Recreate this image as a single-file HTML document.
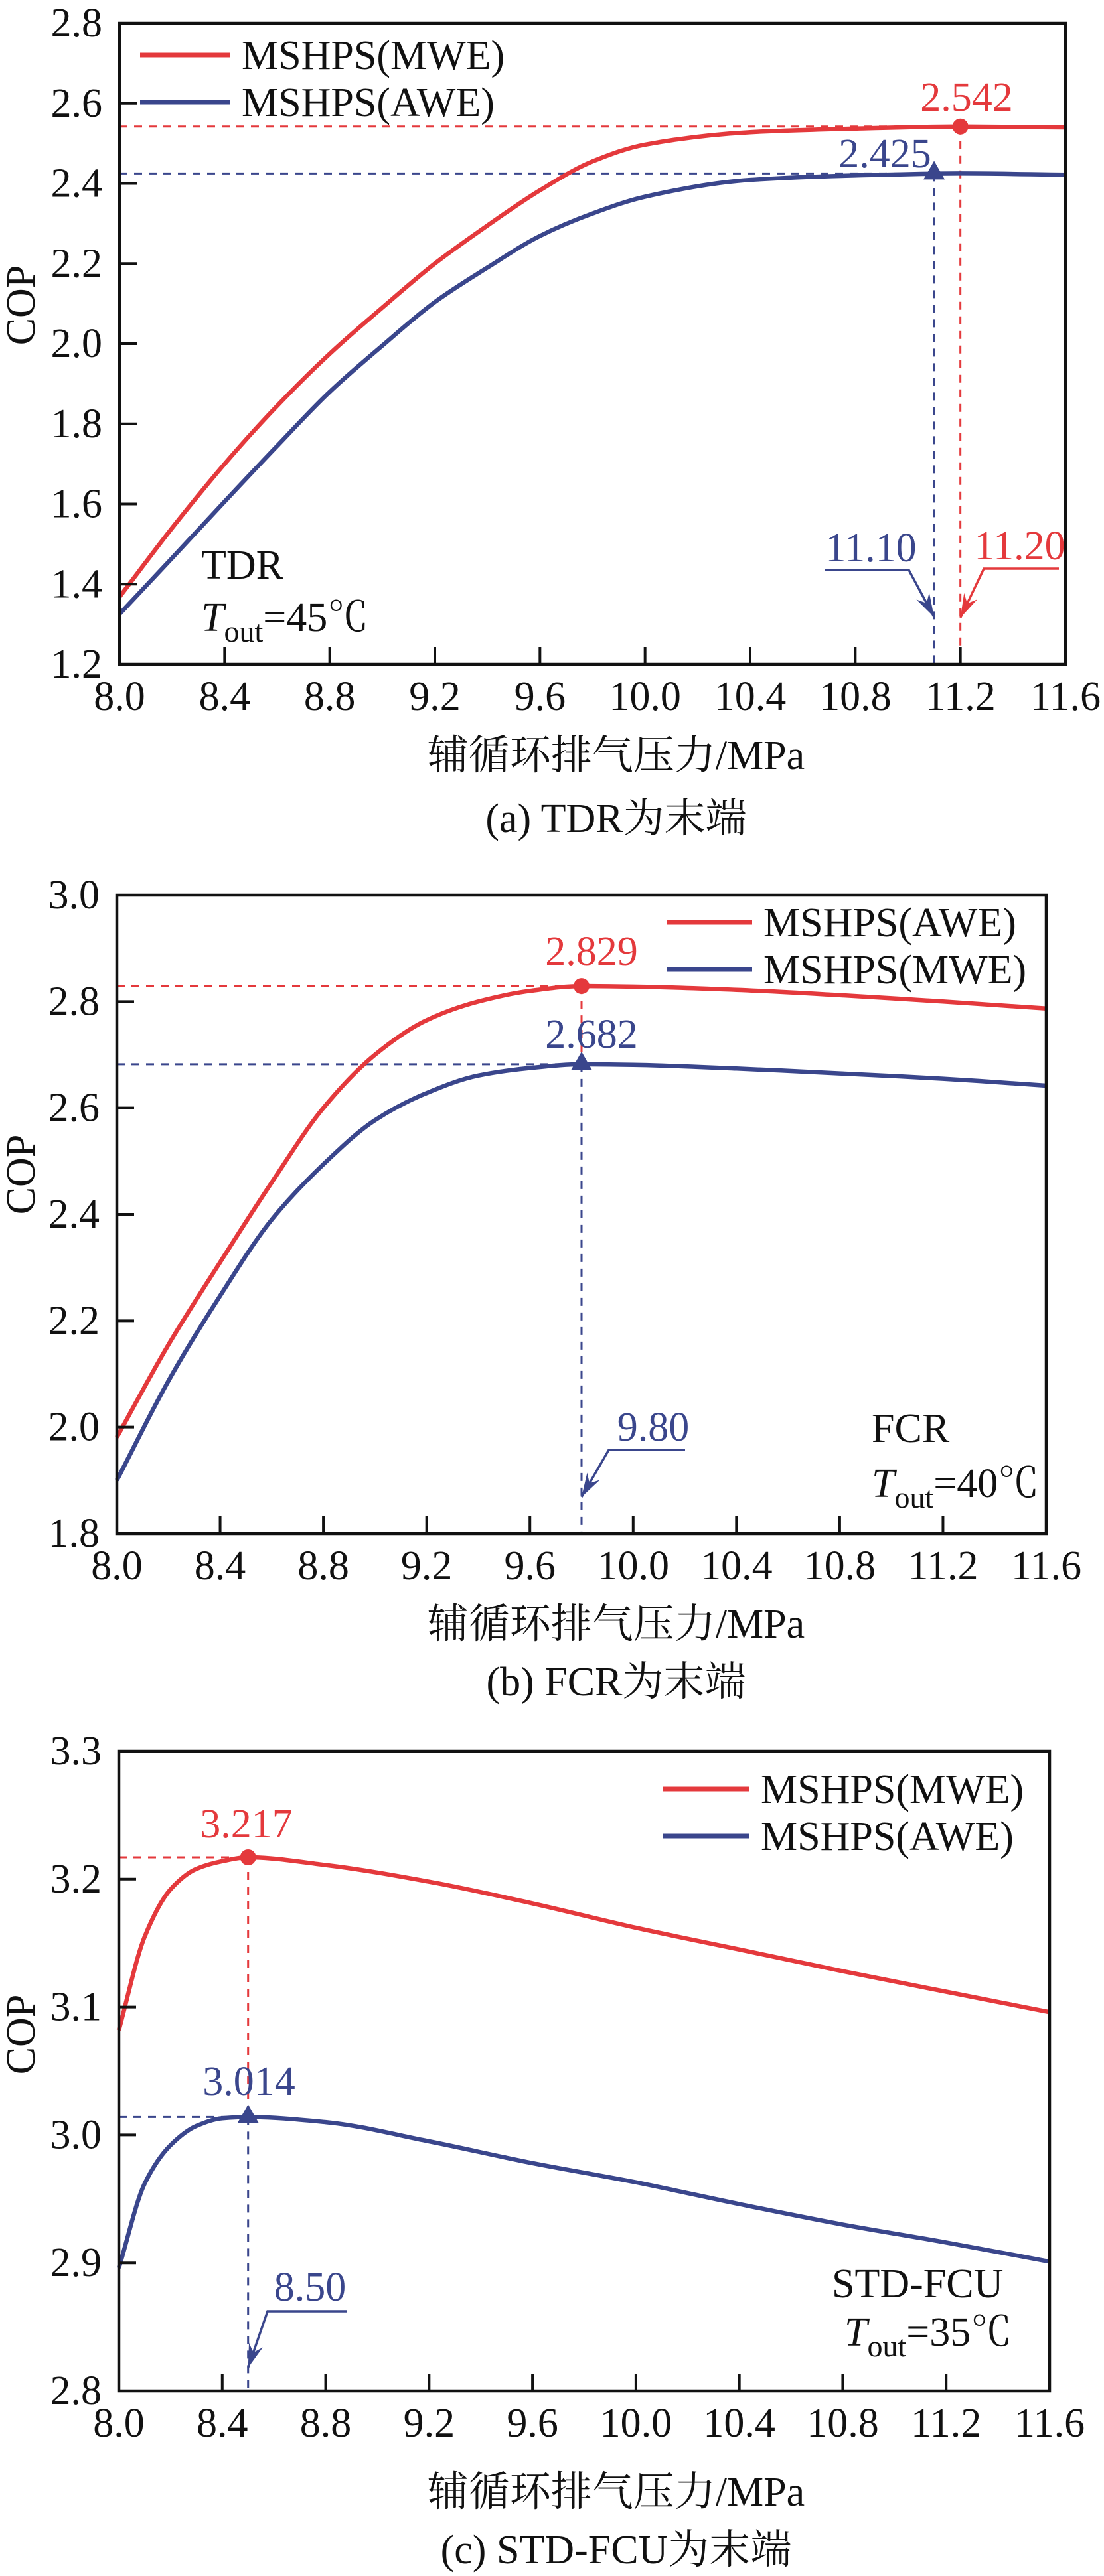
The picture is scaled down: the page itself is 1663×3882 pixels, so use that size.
<!DOCTYPE html>
<html><head><meta charset="utf-8"><title>COP vs 辅循环排气压力</title>
<style>
html,body{margin:0;padding:0;background:#fff;}
svg{display:block;}
text{font-family:"Liberation Serif","Noto Serif CJK SC","Noto Sans CJK SC",serif;}
</style></head>
<body>
<svg id="fig" xmlns="http://www.w3.org/2000/svg" width="1663" height="3882" viewBox="0 0 1663 3882"></svg>
<script>
// ---- Panel (a) data: TDR ----
const xA = [8.0, 8.2, 8.4, 8.6, 8.8, 9.0, 9.2, 9.4, 9.6, 9.8, 10.0, 10.4, 10.8, 11.2, 11.6];
const aRed = [1.368, 1.54, 1.70, 1.845, 1.975, 2.09, 2.20, 2.295, 2.383, 2.455, 2.497, 2.528, 2.537, 2.542, 2.540];
const aBlue = [1.325, 1.465, 1.606, 1.745, 1.88, 1.995, 2.104, 2.19, 2.269, 2.325, 2.367, 2.409, 2.420, 2.425, 2.422];
const aYTicks = ["1.2","1.4","1.6","1.8","2.0","2.2","2.4","2.6","2.8"];
// ---- Panel (b) data: FCR ----
const xB = [8.0, 8.2, 8.4, 8.6, 8.8, 9.0, 9.2, 9.4, 9.6, 9.8, 10.0, 10.4, 10.8, 11.2, 11.6];
const bRed = [1.981, 2.155, 2.31, 2.46, 2.60, 2.70, 2.765, 2.80, 2.82, 2.829, 2.828, 2.822, 2.812, 2.80, 2.787];
const bBlue = [1.90, 2.087, 2.247, 2.39, 2.494, 2.577, 2.628, 2.661, 2.675, 2.682, 2.681, 2.674, 2.665, 2.655, 2.642];
const bYTicks = ["1.8","2.0","2.2","2.4","2.6","2.8","3.0"];
// ---- Panel (c) data: STD-FCU ----
const xC = [8.0, 8.1, 8.2, 8.3, 8.4, 8.5, 8.8, 9.2, 9.6, 10.0, 10.4, 10.8, 11.2, 11.6];
const cRed = [3.082, 3.155, 3.192, 3.208, 3.214, 3.217, 3.211, 3.198, 3.181, 3.162, 3.145, 3.128, 3.112, 3.096];
const cBlue = [2.896, 2.962, 2.992, 3.007, 3.013, 3.014, 3.010, 2.995, 2.978, 2.963, 2.946, 2.930, 2.916, 2.901];
const cYTicks = ["2.8","2.9","3.0","3.1","3.2","3.3"];
const xTicks = ["8.0","8.4","8.8","9.2","9.6","10.0","10.4","10.8","11.2","11.6"];

const RED = "#e4393c", BLUE = "#3a468c";
const NS = "http://www.w3.org/2000/svg";
const svg = document.getElementById('fig');

function mk(tag, attrs, parent){
  const e = document.createElementNS(NS, tag);
  for (const k in attrs) e.setAttribute(k, attrs[k]);
  (parent || svg).appendChild(e);
  return e;
}
function txt(parent, x, y, s, size, fill, anchor){
  const t = mk('text', {x:x, y:y, 'font-size':size, fill:fill||'#111', 'text-anchor':anchor||'start'}, parent);
  t.textContent = s;
  return t;
}
// monotone cubic (Fritsch-Carlson) in pixel space
function smoothPath(pts){
  const n = pts.length, d = [], m = [];
  for (let i = 0; i < n-1; i++) d.push((pts[i+1][1]-pts[i][1])/(pts[i+1][0]-pts[i][0]));
  m[0] = d[0]; m[n-1] = d[n-2];
  for (let i = 1; i < n-1; i++){
    if (d[i-1]*d[i] <= 0) m[i] = 0;
    else { const h0 = pts[i][0]-pts[i-1][0], h1 = pts[i+1][0]-pts[i][0];
      const w1 = 2*h1+h0, w2 = h1+2*h0; m[i] = (w1+w2)/(w1/d[i-1]+w2/d[i]); }
  }
  let s = 'M' + pts[0][0].toFixed(1) + ',' + pts[0][1].toFixed(1);
  for (let i = 0; i < n-1; i++){
    const h = (pts[i+1][0]-pts[i][0])/3;
    s += ' C' + (pts[i][0]+h).toFixed(1)+','+(pts[i][1]+m[i]*h).toFixed(1)+' '+
         (pts[i+1][0]-h).toFixed(1)+','+(pts[i+1][1]-m[i+1]*h).toFixed(1)+' '+
         pts[i+1][0].toFixed(1)+','+pts[i+1][1].toFixed(1);
  }
  return s;
}

function panel(cfg){
  const g = mk('g', {});
  
  
  const yMin = parseFloat(cfg.yTicks[0]), yMax = parseFloat(cfg.yTicks[cfg.yTicks.length-1]);
  const X = v => cfg.L + (v - 8.0) / 3.6 * (cfg.R - cfg.L);
  const Y = v => cfg.B - (v - yMin) / (yMax - yMin) * (cfg.B - cfg.T);

  const refs = mk('g', {'stroke-width':3, 'stroke-dasharray':'12 10', fill:'none'}, g);
  
  
  const rp = cfg.redPeak, bp = cfg.bluePeak;
  mk('line', {x1:cfg.L, y1:Y(rp[1]), x2:X(rp[0]), y2:Y(rp[1]), stroke:RED}, refs);
  mk('line', {x1:cfg.L, y1:Y(bp[1]), x2:X(bp[0]), y2:Y(bp[1]), stroke:BLUE}, refs);
  if (rp[0] === bp[0]){
    mk('line', {x1:X(rp[0]), y1:Y(rp[1]), x2:X(rp[0]), y2:Y(bp[1]), stroke:RED}, refs);
    mk('line', {x1:X(bp[0]), y1:Y(bp[1]), x2:X(bp[0]), y2:cfg.B, stroke:BLUE}, refs);
  } else {
    mk('line', {x1:X(rp[0]), y1:Y(rp[1]), x2:X(rp[0]), y2:cfg.B, stroke:RED}, refs);
    mk('line', {x1:X(bp[0]), y1:Y(bp[1]), x2:X(bp[0]), y2:cfg.B, stroke:BLUE}, refs);
  }

  const pr = mk('path', {d:smoothPath(cfg.xs.map((x,i)=>[X(x),Y(cfg.red[i])])), stroke:RED, 'stroke-width':6.5, fill:'none'}, g);
  
  
  const pb = mk('path', {d:smoothPath(cfg.xs.map((x,i)=>[X(x),Y(cfg.blue[i])])), stroke:BLUE, 'stroke-width':6.5, fill:'none'}, g);
  
  

  const c = mk('circle', {cx:X(rp[0]), cy:Y(rp[1]), r:12, fill:RED}, g);
  
  
  const tx = X(bp[0]), ty = Y(bp[1]);
  const tri = mk('polygon', {points:(tx-16)+','+(ty+9)+' '+(tx+16)+','+(ty+9)+' '+tx+','+(ty-19), fill:BLUE}, g);
  
  

  const lr = txt(g, cfg.redLbl[0], cfg.redLbl[1], rp[2], 62, RED, 'middle');
  
  
  const lb = txt(g, cfg.blueLbl[0], cfg.blueLbl[1], bp[2], 62, BLUE, 'middle');
  
  

  cfg.leaders.forEach(ld => {
    const lg = mk('g', {}, g);
    
    
    const tip = [X(ld.x), ld.tipY];
    mk('polyline', {points: ld.h0+','+ld.hy+' '+ld.h1+','+ld.hy+' '+tip[0]+','+tip[1], stroke:ld.color, 'stroke-width':3.5, fill:'none'}, lg);
    const dx = tip[0]-ld.h1, dy = tip[1]-ld.hy, len = Math.hypot(dx,dy), ux = dx/len, uy = dy/len;
    const bx = tip[0]-ux*36, by = tip[1]-uy*36;
    mk('polygon', {points: tip[0]+','+tip[1]+' '+(bx-uy*11)+','+(by+ux*11)+' '+(tip[0]-ux*24)+','+(tip[1]-uy*24)+' '+(bx+uy*11)+','+(by-ux*11), fill:ld.color}, lg);
    txt(lg, ld.tx, ld.ty, ld.label, 62, ld.color, 'middle');
  });

  const fr = mk('rect', {x:cfg.L, y:cfg.T, width:cfg.R-cfg.L, height:cfg.B-cfg.T, fill:'none', stroke:'#111', 'stroke-width':4.5}, g);
  
  

  const yg = mk('g', {}, g);
  
  
  cfg.yTicks.forEach(s => {
    const y = Y(parseFloat(s));
    mk('line', {x1:cfg.L, y1:y, x2:cfg.L+26, y2:y, stroke:'#111', 'stroke-width':4}, yg);
    txt(yg, cfg.L-26, y+20, s, 62, '#111', 'end');
  });
  const xg = mk('g', {}, g);
  
  
  xTicks.forEach(s => {
    const x = X(parseFloat(s));
    mk('line', {x1:x, y1:cfg.B, x2:x, y2:cfg.B-26, stroke:'#111', 'stroke-width':4}, xg);
    txt(xg, x, cfg.B+69, s, 62, '#111', 'middle');
  });

  const yt = txt(g, 0, 0, 'COP', 62, '#111', 'middle');
  yt.setAttribute('transform', 'translate(' + (cfg.copX) + ',' + cfg.copY + ') rotate(-90)');
  
  
  const xt = txt(g, 928, cfg.xlabelY, '辅循环排气压力/MPa', 62, '#111', 'middle');
  
  
  const cap = txt(g, 928, cfg.capY, cfg.caption, 62, '#111', 'middle');
  
  

  const lgd = mk('g', {}, g);
  
  
  const e1 = mk('g', {}, lgd);
  
  
  mk('line', {x1:cfg.leg[0], y1:cfg.leg[2], x2:cfg.leg[1], y2:cfg.leg[2], stroke:RED, 'stroke-width':7}, e1);
  txt(e1, cfg.leg[1]+17, cfg.leg[2]+21, cfg.legNames[0], 62, '#111');
  const e2 = mk('g', {}, lgd);
  
  
  mk('line', {x1:cfg.leg[0], y1:cfg.leg[3], x2:cfg.leg[1], y2:cfg.leg[3], stroke:BLUE, 'stroke-width':7}, e2);
  txt(e2, cfg.leg[1]+17, cfg.leg[3]+21, cfg.legNames[1], 62, '#111');

  const ng = mk('g', {}, g);
  
  
  txt(ng, cfg.note[0], cfg.note[1], cfg.note[2], 62, '#111');
  const t2 = mk('text', {x:cfg.note[3], y:cfg.note[4], 'font-size':62, fill:'#111'}, ng);
  const ti = mk('tspan', {'font-style':'italic'}, t2); ti.textContent = 'T';
  const ts = mk('tspan', {dy:16, 'font-size':46}, t2); ts.textContent = 'out';
  const tr = mk('tspan', {dy:-16}, t2); tr.textContent = '=' + cfg.note[5] + '℃';
}

panel({name:'panel-a-tdr', L:180, R:1605, T:35, B:1001, xs:xA, red:aRed, blue:aBlue, yTicks:aYTicks,
  redPeak:[11.2, 2.542, '2.542'], bluePeak:[11.1, 2.425, '2.425'],
  redLbl:[1456,167], blueLbl:[1333,252],
  leaders:[
    {x:11.1, tipY:930, h0:1243, h1:1369, hy:859, color:BLUE, label:'11.10', tx:1312, ty:846},
    {x:11.2, tipY:931, h0:1595, h1:1482, hy:857, color:RED, label:'11.20', tx:1536, ty:843}],
  copX:52, copY:460, xlabelY:1159, capY:1254, caption:'(a) TDR为末端',
  leg:[211,347,83,154], legNames:['MSHPS(MWE)','MSHPS(AWE)'],
  note:[303,872,'TDR',303,951,'45']});

panel({name:'panel-b-fcr', L:176, R:1576, T:1349, B:2311, xs:xB, red:bRed, blue:bBlue, yTicks:bYTicks,
  redPeak:[9.8, 2.829, '2.829'], bluePeak:[9.8, 2.682, '2.682'],
  redLbl:[891,1454], blueLbl:[891,1579],
  leaders:[{x:9.8, tipY:2256, h0:1032, h1:917, hy:2185, color:BLUE, label:'9.80', tx:984, ty:2171}],
  copX:52, copY:1770, xlabelY:2468, capY:2555, caption:'(b) FCR为末端',
  leg:[1005,1133,1390,1461], legNames:['MSHPS(AWE)','MSHPS(MWE)'],
  note:[1313,2173,'FCR',1313,2256,'40']});

panel({name:'panel-c-std-fcu', L:179, R:1581, T:2639, B:3603, xs:xC, red:cRed, blue:cBlue, yTicks:cYTicks,
  redPeak:[8.5, 3.217, '3.217'], bluePeak:[8.5, 3.014, '3.014'],
  redLbl:[371,2769], blueLbl:[375,3157],
  leaders:[{x:8.5, tipY:3568, h0:522, h1:403, hy:3483, color:BLUE, label:'8.50', tx:467, ty:3467}],
  copX:52, copY:3066, xlabelY:3776, capY:3863, caption:'(c) STD-FCU为末端',
  leg:[999,1129,2696,2767], legNames:['MSHPS(MWE)','MSHPS(AWE)'],
  note:[1253,3462,'STD-FCU',1272,3535,'35']});
</script>
</body></html>
